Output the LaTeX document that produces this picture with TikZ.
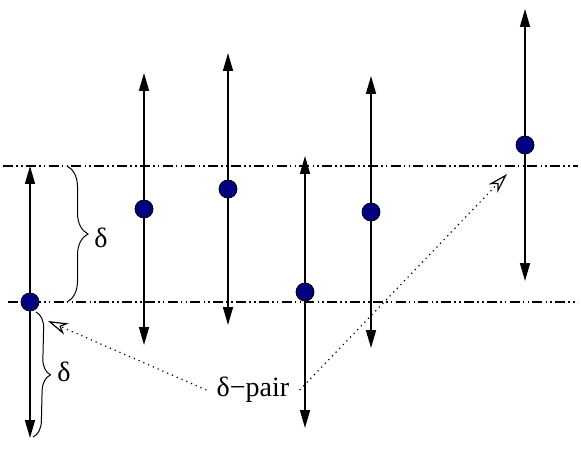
\documentclass[tikz,border=0pt]{standalone}
\usepackage{fontspec}
\setmainfont{Liberation Serif}
\usetikzlibrary{arrows.meta,decorations.pathreplacing}
\definecolor{spinnavy}{HTML}{000080}

\begin{document}
\begin{tikzpicture}[x=0.5pt,y=-0.5pt,
  spin/.style={{Triangle[length=9pt,width=5pt]}-{Triangle[length=9pt,width=5pt]},
               line width=0.8pt,black},
  particle/.style={circle,draw=black,fill=spinnavy,line width=0.4pt,
               inner sep=0pt,minimum size=9pt},
  level/.style={line width=0.6pt,
               dash pattern=on 5pt off 1.6pt on 0.8pt off 1.6pt on 0.8pt off 1.6pt},
  curly/.style={decorate,decoration={brace,amplitude=#1},line width=0.5pt},
  pair/.style={dotted,line width=0.6pt,
               -{Stealth[open,length=10pt,width=6pt,inset=3pt]}},
  lbl/.style={font=\rmfamily\fontsize{14}{16}\selectfont,inner sep=3pt}]
  \useasboundingbox (0,0) rectangle (581,448);
  % the two levels
  \coordinate (upl) at (3,166);
  \coordinate (upr) at (578,166);
  \coordinate (lol) at (8,302);
  \coordinate (lor) at (578,302);
  \draw[level] (upl) -- (upr);
  \draw[level] (lol) -- (lor);
  % spins
  \foreach \n/\x/\y in {1/30/302,2/144/209,3/228/189,4/305/292,5/371/212,6/525/145}{
    \coordinate (t\n) at (\x,\y-136);
    \coordinate (b\n) at (\x,\y+136);
    \draw[spin] (t\n) -- (b\n);
    \node[particle] (p\n) at (\x,\y) {};
  }
  % braces
  \draw[curly=10.5pt] (67,166) -- (67,302);
  \node[lbl] (d1) at (101,238) {δ};
  \draw[curly=8pt] (36,312) -- (33,437);
  \node[lbl] (d2) at (64,372) {δ};
  % delta pair
  \node[lbl,inner sep=5pt] (dp) at (253,390) {δ−pair};
  \coordinate (hl) at (48,321);
  \coordinate (hr) at (507,174);
  \draw[pair] (dp.west) -- (hl);
  \draw[pair] (dp.east) -- (hr);
\end{tikzpicture}
\end{document}
